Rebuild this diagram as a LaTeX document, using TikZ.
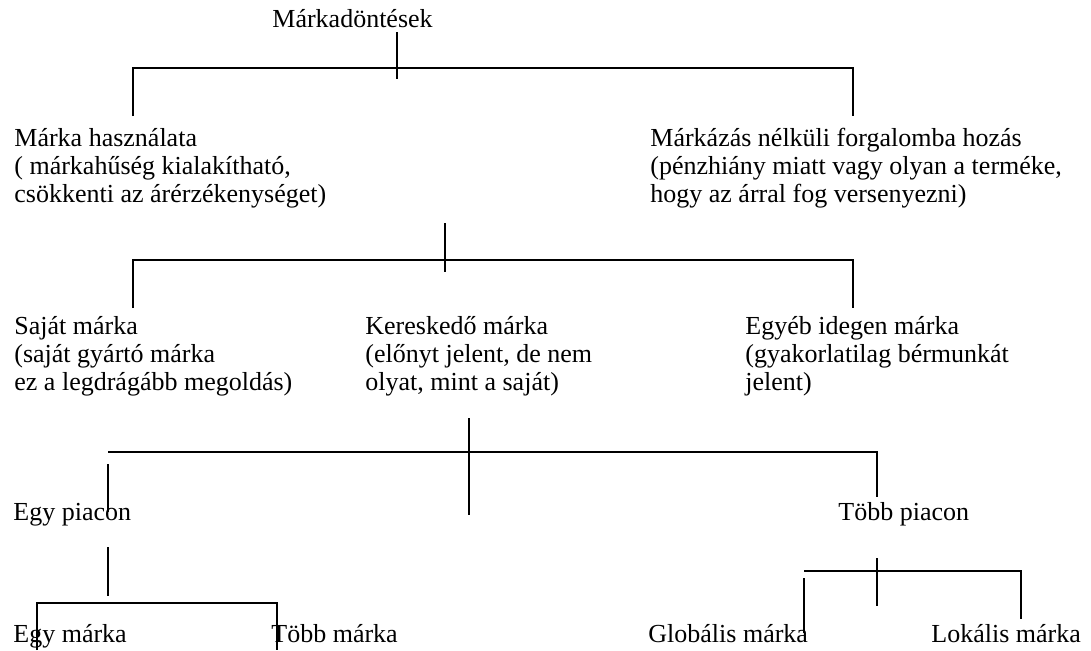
\documentclass[tikz,border=0pt]{standalone}
\usepackage{fontspec}
\setmainfont{Liberation Serif}
\usepackage{tikz}

\begin{document}
\begin{tikzpicture}[x=0.5pt, y=-0.5pt,
  txt/.style={anchor=base west, align=left, inner sep=0pt, font=\fontsize{13pt}{14pt}\selectfont},
  ln/.style={line width=1.1pt, line cap=butt}]

  \useasboundingbox (0,0) rectangle (1091,650);

  \node[txt] (dontes) at (272,27) {Márkadöntések};
  \node[txt] (hasznalat) at (14,202) {Márka használata\\( márkahűség kialakítható,\\csökkenti az árérzékenységet)};
  \node[txt] (nelkul) at (650,202) {Márkázás nélküli forgalomba hozás\\(pénzhiány miatt vagy olyan a terméke,\\hogy az árral fog versenyezni)};
  \node[txt] (sajat) at (14,390) {Saját márka\\(saját gyártó márka\\ez a legdrágább megoldás)};
  \node[txt] (keresk) at (365,390) {Kereskedő márka\\(előnyt jelent, de nem\\olyat, mint a saját)};
  \node[txt] (idegen) at (745,390) {Egyéb idegen márka\\(gyakorlatilag bérmunkát\\jelent)};
  \node[txt] (egypiac) at (13,520) {Egy piacon};
  \node[txt] (tobbpiac) at (838,520) {Több piacon};
  \node[txt] (egymarka) at (13,642) {Egy márka};
  \node[txt] (tobbmarka) at (271,642) {Több márka};
  \node[txt] (global) at (648,642) {Globális márka};
  \node[txt] (lokal) at (931,642) {Lokális márka};

  \coordinate (d-top) at (397,32);
  \coordinate (d-bot) at (397,79);
  \coordinate (d-l) at (133,68);
  \coordinate (d-r) at (853,68);
  \coordinate (d-ld) at (133,116);
  \coordinate (d-rd) at (853,116);
  \draw[ln] (d-top) -- (d-bot);
  \draw[ln] (d-ld) -- (d-l) -- (d-r) -- (d-rd);

  \coordinate (h-top) at (445,223);
  \coordinate (h-bot) at (445,272);
  \coordinate (h-l) at (133,260);
  \coordinate (h-r) at (853,260);
  \coordinate (h-ld) at (133,308);
  \coordinate (h-rd) at (853,308);
  \draw[ln] (h-top) -- (h-bot);
  \draw[ln] (h-ld) -- (h-l) -- (h-r) -- (h-rd);

  \coordinate (s-top) at (469,418);
  \coordinate (s-bot) at (469,515);
  \coordinate (s-l) at (108,452);
  \coordinate (s-r) at (877,452);
  \coordinate (s-rd) at (877,497);
  \coordinate (s-lt) at (108,464);
  \coordinate (s-ld) at (108,512);
  \draw[ln] (s-top) -- (s-bot);
  \draw[ln] (s-l) -- (s-r) -- (s-rd);
  \draw[ln] (s-lt) -- (s-ld);

  \coordinate (e-top) at (108,547);
  \coordinate (e-bot) at (108,596);
  \coordinate (e-l) at (37,603);
  \coordinate (e-r) at (277,603);
  \coordinate (e-ld) at (37,650);
  \coordinate (e-rd) at (277,650);
  \draw[ln] (e-top) -- (e-bot);
  \draw[ln] (e-ld) -- (e-l) -- (e-r) -- (e-rd);

  \coordinate (t-top) at (877,558);
  \coordinate (t-bot) at (877,606);
  \coordinate (t-l) at (804,571);
  \coordinate (t-r) at (1021,571);
  \coordinate (t-lt) at (804,578);
  \coordinate (t-ld) at (804,633);
  \coordinate (t-rd) at (1021,619);
  \draw[ln] (t-top) -- (t-bot);
  \draw[ln] (t-l) -- (t-r) -- (t-rd);
  \draw[ln] (t-lt) -- (t-ld);
\end{tikzpicture}
\end{document}
